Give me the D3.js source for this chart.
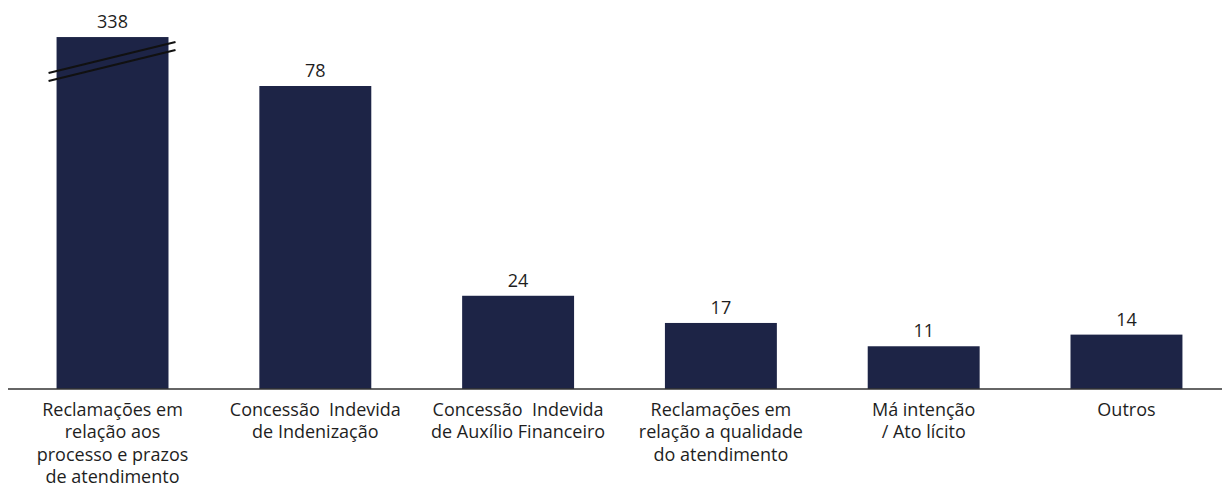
<!DOCTYPE html>
<html>
<head>
<meta charset="utf-8">
<script src="https://cdn.jsdelivr.net/npm/d3@7"></script>
<style>
  body { margin: 0; background: #fff; }
  svg { display: block; }
</style>
</head>
<body>
<svg id="chart" width="1222" height="490"></svg>
<script>
"use strict";

const categories = [
  "Reclamações em|relação aos|processo e prazos|de atendimento",
  "Concessão  Indevida|de Indenização",
  "Concessão  Indevida|de Auxílio Financeiro",
  "Reclamações em|relação a qualidade|do atendimento",
  "Má intenção|/ Ato lícito",
  "Outros"
];
const values = [338, 78, 24, 17, 11, 14];
const brokenCap = 90.6;   // first bar drawn cut off (axis break)

const W = 1222, H = 490;
const margin = {left: 8, right: 0, top: 37, bottom: 101};
const font = "'Open Sans', sans-serif";
const barColor = "#1d2446";
const textColor = "#1e1e1e";

let svg = d3.select('#chart');

let x = d3.scaleBand()
  .domain(categories)
  .range([16, 1223])
  .paddingInner(0.448)
  .paddingOuter(0.2);

let y = d3.scaleLinear()
  .domain([0, 78])
  .range([H - margin.bottom, 86]);

let shown = v => Math.min(v, brokenCap);

// bars
svg.append('g').selectAll('rect')
  .data(values)
  .join('rect')
  .attr('x', (d,i) => x(categories[i]))
  .attr('y', d => y(shown(d)))
  .attr('width', x.bandwidth())
  .attr('height', d => y(0) - y(shown(d)))
  .attr('fill', barColor);

// value labels
svg.append('g').selectAll('text')
  .data(values)
  .join('text')
  .attr('x', (d,i) => x(categories[i]) + x.bandwidth()/2)
  .attr('y', d => y(shown(d)) - 9)
  .attr('text-anchor', 'middle')
  .attr('font-family', font)
  .attr('font-size', 18)
  .attr('fill', textColor)
  .text(d => d);

// break marks on the first bar
let b0 = x(categories[0]);
let bk = svg.append('g');
[0, 8].forEach(off => {
  bk.append('line')
    .attr('x1', b0 - 8).attr('y1', y(brokenCap) + 36 + off)
    .attr('x2', b0 + x.bandwidth() + 7).attr('y2', y(brokenCap) + 5 + off)
    .attr('stroke', '#111')
    .attr('stroke-width', 2);
});

// x axis: baseline only
let axis = d3.axisBottom(x).tickSize(0).tickPadding(0).tickFormat('');
let ag = svg.append('g')
  .attr('transform', `translate(0, ${y(0)})`)
  .call(axis);
ag.select('.domain').attr('stroke', '#333').attr('stroke-width', 1.5)
  .attr('d', `M${margin.left},0H${W - margin.right}`);

// category labels (multi-line)
ag.selectAll('.tick').each(function(d) {
  let lines = d.split('|');
  let t = d3.select(this).append('text')
    .attr('text-anchor', 'middle')
    .attr('font-family', font)
    .attr('font-size', 18)
    .attr('fill', textColor)
    .style('white-space', 'pre');
  lines.forEach((ln, i) => {
    t.append('tspan').attr('x', 0).attr('y', 27 + i * 22.3).text(ln);
  });
});
</script>
</body>
</html>
